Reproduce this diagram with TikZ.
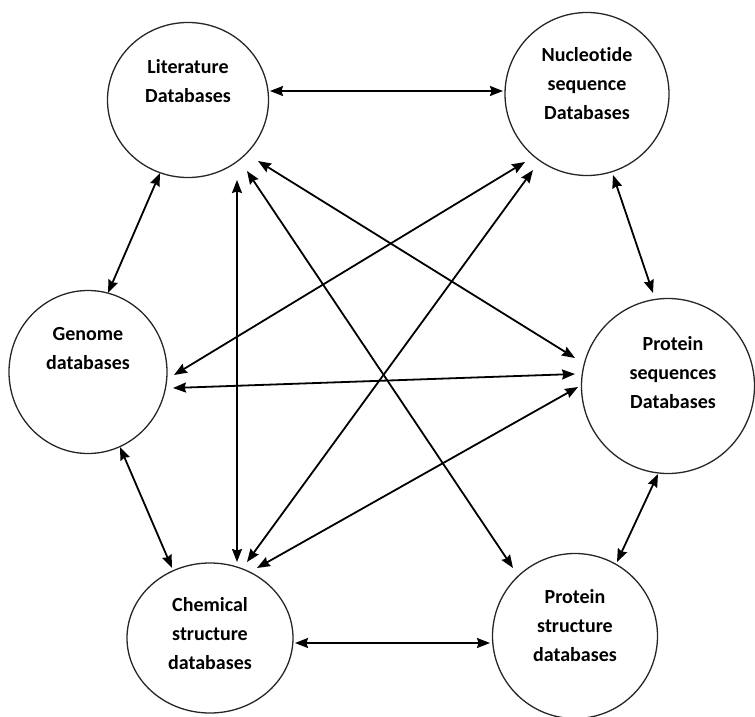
\documentclass[tikz,border=0pt]{standalone}
\usepackage{fontspec}
\setmainfont{Carlito}[Ligatures=NoCommon]
\usetikzlibrary{arrows.meta,shapes.geometric}

\begin{document}
\begin{tikzpicture}[x=1pt,y=-1pt,
      db/.style={ellipse,draw=black!85,line width=1.3pt,inner sep=0pt},
      txt/.style={align=center,text=black,
                  font=\fontsize{20}{29}\selectfont\bfseries},
      arr/.style={{Stealth[length=13pt,width=10pt,inset=1.5pt]}-{Stealth[length=13pt,width=10pt,inset=1.5pt]},
                  line width=1.8pt,black}]
    \useasboundingbox (0,0) rectangle (755,717);
    \node[db,minimum width=161pt,minimum height=155pt](lit) at (188,100){};
    \node[db,minimum width=164pt,minimum height=163pt](nuc) at (587,94){};
    \node[db,minimum width=158pt,minimum height=163pt](gen) at (88,372){};
    \node[db,minimum width=173pt,minimum height=175pt](pseq) at (668,386){};
    \node[db,minimum width=166pt,minimum height=150pt](chem) at (210,638){};
    \node[db,minimum width=165pt,minimum height=165pt](pstr) at (575,636){};
    \node[txt](litT) at ([yshift=19pt]lit.center){Literature\\Databases};
    \node[txt](nucT) at ([yshift=10pt]nuc.center){Nucleotide\\sequence\\Databases};
    \node[txt](genT) at ([yshift=23pt]gen.center){Genome\\databases};
    \node[txt](pseqT) at ([xshift=5pt,yshift=13pt]pseq.center){Protein\\sequences\\Databases};
    \node[txt](chemT) at ([yshift=4pt]chem.center){Chemical\\structure\\databases};
    \node[txt](pstrT) at ([yshift=10pt]pstr.center){Protein\\structure\\databases};
    \draw[arr]([shift={(82,-9)}]lit.center)--([shift={(-84,-3)}]nuc.center);
    \draw[arr]([shift={(-28,73)}]lit.center)--([shift={(20,-79)}]gen.center);
    \draw[arr]([shift={(26,81)}]nuc.center)--([shift={(-15,-93)}]pseq.center);
    \draw[arr]([shift={(32,75)}]gen.center)--([shift={(-38,-70)}]chem.center);
    \draw[arr]([shift={(-10,88)}]pseq.center)--([shift={(42,-74)}]pstr.center);
    \draw[arr]([shift={(85,5)}]chem.center)--([shift={(-85,7)}]pstr.center);
    \draw[arr]([shift={(49,80)}]lit.center)--([shift={(27,-76)}]chem.center);
    \draw[arr]([shift={(59,71)}]lit.center)--([shift={(-62,-68)}]pstr.center);
    \draw[arr]([shift={(70,61)}]lit.center)--([shift={(-93,-28)}]pseq.center);
    \draw[arr]([shift={(86,3)}]gen.center)--([shift={(-62,68)}]nuc.center);
    \draw[arr]([shift={(85,16)}]gen.center)--([shift={(-93,-12)}]pseq.center);
    \draw[arr]([shift={(37,-76)}]chem.center)--([shift={(-54,76)}]nuc.center);
    \draw[arr]([shift={(47,-70)}]chem.center)--([shift={(-90,1)}]pseq.center);
  \end{tikzpicture}
\end{document}
